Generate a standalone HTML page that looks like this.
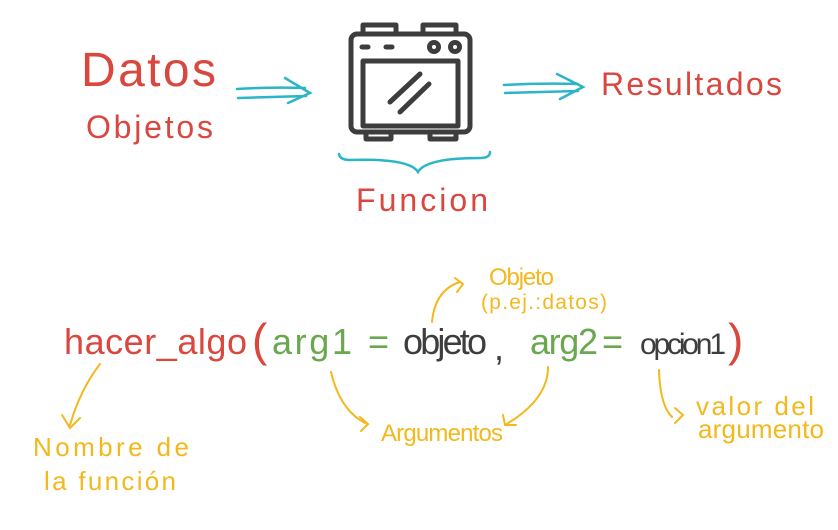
<!DOCTYPE html>
<html><head><style>html,body{margin:0;padding:0;background:#fff}svg{display:block}</style></head>
<body>
<svg width="838" height="530" viewBox="0 0 838 530" xmlns="http://www.w3.org/2000/svg" font-family="Liberation Sans, sans-serif">
<!-- top labels -->
<text x="81" y="86" font-size="48" fill="#d9473f" textLength="135">Datos</text>
<text x="86" y="138" font-size="32" fill="#d9473f" textLength="127">Objetos</text>
<text x="601" y="95" font-size="32" fill="#d9473f" textLength="181">Resultados</text>
<text x="356" y="211" font-size="32" fill="#d9473f" textLength="132">Funcion</text>
<!-- teal arrows -->
<g stroke="#2bb5c8" stroke-width="2.5" fill="none" stroke-linecap="round">
<path d="M237 89 Q270 87 305 88"/><path d="M238 98 Q270 97 306 96"/><path d="M285 78 L310 93 L288 103"/>
<path d="M504 85 Q540 83 578 84"/><path d="M505 93 Q540 92 578 91"/><path d="M557 74 L583 87 L560 99"/>
<path d="M339 154 Q340 160 350 160 Q410 158 418 172 Q426 158 480 158 Q490 158 490 152"/>
</g>
<!-- oven -->
<g stroke="#3d3d3d" stroke-width="5" fill="none" stroke-linejoin="round">
<rect x="351" y="34" width="119" height="98" rx="6"/>
<rect x="363" y="25" width="33" height="9"/><rect x="423" y="25" width="33" height="9"/>
<rect x="366" y="132" width="25" height="7"/><rect x="430" y="132" width="26" height="7"/>
<rect x="363" y="61" width="95" height="65"/>
<circle cx="434" cy="47" r="4.5"/><circle cx="455" cy="47" r="4.5"/>
<g stroke-linecap="round"><path d="M362 47 H368"/><path d="M386 47 H392"/><path d="M390 102 L420 74"/><path d="M400 112 L429 84"/></g>
</g>
<!-- code line -->
<g font-size="36">
<text x="64" y="354" fill="#d9473f" textLength="183" lengthAdjust="spacing">hacer_algo</text>
<text x="252" y="356" fill="#d9473f" font-size="46">(</text>
<text x="272" y="354" fill="#6aa84f" textLength="80" lengthAdjust="spacing">arg1</text>
<text x="368" y="354" fill="#6aa84f">=</text>
<text x="403" y="354" fill="#3d3d3d" textLength="84" lengthAdjust="spacing">objeto</text>
<text x="494" y="360" fill="#3d3d3d">,</text>
<text x="530" y="354" fill="#6aa84f" textLength="68" lengthAdjust="spacing">arg2</text>
<text x="602" y="354" fill="#6aa84f">=</text>
<text x="640" y="354" fill="#3d3d3d" font-size="30" textLength="86" lengthAdjust="spacing">opcion1</text>
<text x="728" y="356" fill="#d9473f" font-size="46">)</text>
</g>
<!-- yellow annotations -->
<g stroke="#f3b81c" stroke-width="2" fill="none" stroke-linecap="round">
<path d="M100 364 Q80 390 70 425"/><path d="M62 415 L70 428 L80 418"/>
<path d="M432 322 Q435 290 460 282"/><path d="M455 278 L463 284 L457 292"/>
<path d="M331 372 Q340 410 365 423"/><path d="M360 417 L368 424 L361 431"/>
<path d="M548 367 Q548 400 505 425"/><path d="M503 415 L505 425 L516 425"/>
<path d="M659 370 Q660 405 672 417"/><path d="M675 408 L683 415 L675 423"/>
</g>
<g fill="#f3b81c" font-size="26">
<text x="489" y="285" font-size="24" textLength="65">Objeto</text>
<text x="481" y="309" font-size="21" textLength="126">(p.ej.:datos)</text>
<text x="381" y="441" font-size="24" textLength="122">Argumentos</text>
<text x="696" y="415" textLength="118">valor del</text>
<text x="698" y="438" textLength="126">argumento</text>
<text x="33" y="456" textLength="156">Nombre de</text>
<text x="44" y="490" textLength="132">la función</text>
</g>
</svg>
</body></html>
